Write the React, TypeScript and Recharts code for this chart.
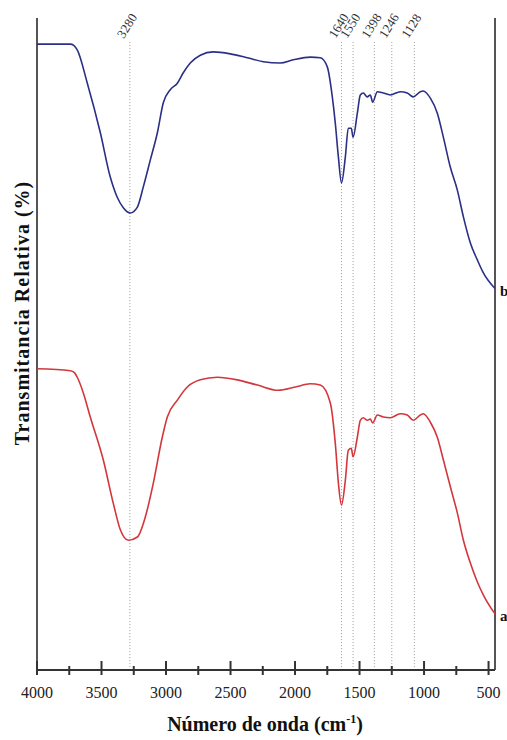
import { LineChart, Line, XAxis, YAxis, ReferenceLine } from "recharts";

// sample a (red, lower trace)
const waveA = [4000, 3742, 3710, 3688, 3641, 3587, 3486, 3409, 3354, 3292, 3222, 3160, 3098, 3029, 2990, 2912, 2835, 2734, 2602, 2447, 2292, 2130, 1998, 1882, 1804, 1727, 1688, 1664, 1640, 1610, 1587, 1564, 1550, 1517, 1494, 1471, 1440, 1417, 1398, 1362, 1316, 1262, 1184, 1130, 1084, 1029, 1006, 951, 897, 850, 796, 742, 695, 641, 587, 540, 450];
const transA = [46.2, 45.9, 45.6, 44.9, 42.5, 38.8, 32.2, 25.6, 21.5, 19.9, 20.4, 23.5, 28.7, 35.7, 38.8, 41.4, 43.4, 44.5, 44.9, 44.5, 43.7, 42.9, 43.4, 43.9, 43.7, 41.0, 34.8, 28.7, 25.3, 29.1, 33.7, 34.0, 32.7, 35.7, 38.3, 38.7, 38.3, 38.5, 37.9, 39.1, 38.8, 38.7, 39.3, 39.1, 38.3, 39.1, 39.3, 38.0, 35.7, 32.2, 28.1, 24.1, 19.9, 16.4, 13.5, 11.5, 8.6];

// sample b (blue, upper trace)
const waveB = [4000, 3742, 3715, 3688, 3610, 3509, 3432, 3378, 3331, 3277, 3222, 3176, 3122, 3067, 3021, 2967, 2912, 2866, 2812, 2734, 2634, 2502, 2370, 2246, 2114, 2013, 1882, 1804, 1750, 1711, 1688, 1664, 1640, 1610, 1587, 1564, 1550, 1517, 1494, 1471, 1440, 1417, 1398, 1362, 1316, 1262, 1184, 1130, 1084, 1029, 1006, 951, 897, 850, 796, 742, 695, 641, 587, 540, 450];
const transB = [96.0, 96.0, 95.8, 95.1, 90.0, 82.4, 75.6, 72.5, 70.9, 70.1, 71.0, 74.1, 78.2, 82.4, 87.0, 89.0, 90.0, 91.6, 93.1, 94.3, 94.8, 94.5, 93.9, 93.3, 93.1, 93.6, 94.0, 93.9, 92.5, 87.9, 83.9, 78.7, 74.7, 78.7, 83.1, 83.1, 81.7, 85.4, 88.2, 88.5, 87.9, 88.2, 87.1, 88.7, 88.5, 88.2, 88.7, 88.5, 87.9, 88.7, 88.8, 87.7, 85.4, 81.7, 77.1, 73.6, 69.5, 65.5, 62.9, 60.9, 58.5];

// marked bands: label and where the dotted guide sits
const peakLabels = ["3280", "1640", "1550", "1398", "1246", "1128"];
const peakPositions = [3280, 1640, 1550, 1385, 1250, 1075];

const xTicks = [4000, 3750, 3500, 3250, 3000, 2750, 2500, 2250, 2000, 1750, 1500, 1250, 1000, 750, 500];

const serif = '"Liberation Serif", "Times New Roman", serif';

const seriesA = waveA.map((wn, i) => ({ wn, t: transA[i] }));
const seriesB = waveB.map((wn, i) => ({ wn, t: transB[i] }));

function AxisTick(props: any) {
  const { x, y, payload } = props;
  const major = payload.value % 500 === 0;
  return (
    <g>
      <line
        x1={x}
        x2={x}
        y1={major ? y - 9 : y - 4}
        y2={y + 5}
        stroke="#333"
        strokeWidth={2}
      />
      {major && (
        <text x={x} y={y + 28} textAnchor="middle" style={{ fontFamily: serif }} fontSize={16} fill="#222">
          {payload.value}
        </text>
      )}
    </g>
  );
}

const peakLabel = (txt: string) => (props: any) => {
  const vb = props.viewBox || {};
  const px = vb.x - 6;
  const py = vb.y - 3;
  return (
    <text
      x={px}
      y={py}
      style={{ fontFamily: serif }}
      fontSize={13}
      fill="#333"
      transform={`rotate(-58 ${px} ${py})`}
    >
      {txt}
    </text>
  );
};

const endLabel = (txt: string, last: number) => (props: any) => {
  if (props.index !== last) return null;
  return (
    <text
      key={txt}
      x={props.x + 5}
      y={props.y + 7}
      style={{ fontFamily: serif }}
      fontWeight="bold"
      fontSize={15}
      fill="#111"
    >
      {txt}
    </text>
  );
};

export default function App() {
  return (
    <div style={{ position: "absolute", left: 0, top: 0, width: 507, height: 740, background: "#fff" }}>
      <LineChart width={507} height={740} margin={{ top: 18, right: 12, left: 37, bottom: 0 }}>
        <XAxis
          type="number"
          dataKey="wn"
          domain={[450, 4000]}
          reversed
          allowDataOverflow
          ticks={xTicks}
          interval={0}
          tick={<AxisTick />}
          tickLine={false}
          tickSize={0}
          tickMargin={0}
          height={70}
          axisLine={{ stroke: "#333", strokeWidth: 2 }}
        />
        <YAxis type="number" domain={[0, 100]} hide />
        <ReferenceLine x={4000} stroke="#555" strokeWidth={2} />
        <ReferenceLine x={450} stroke="#555" strokeWidth={2} />
        {peakPositions.map((p, i) => (
          <ReferenceLine
            key={p}
            segment={[
              { x: p, y: 96.3 },
              { x: p, y: 0 },
            ]}
            stroke="#999"
            strokeDasharray="1 2"
            strokeWidth={1}
            label={peakLabel(peakLabels[i])}
          />
        ))}
        <Line
          data={seriesB}
          dataKey="t"
          type="monotone"
          stroke="#2b2f85"
          strokeWidth={1.6}
          dot={false}
          isAnimationActive={false}
          label={endLabel("b", seriesB.length - 1)}
        />
        <Line
          data={seriesA}
          dataKey="t"
          type="monotone"
          stroke="#d2373c"
          strokeWidth={1.6}
          dot={false}
          isAnimationActive={false}
          label={endLabel("a", seriesA.length - 1)}
        />
      </LineChart>
      <div
        style={{
          position: "absolute",
          left: 0,
          width: 530,
          top: 712,
          textAlign: "center",
          fontFamily: serif,
          fontWeight: "bold",
          fontSize: 20,
          color: "#111",
        }}
      >
        Número de onda (cm<sup style={{ fontSize: 12 }}>-1</sup>)
      </div>
      <div
        style={{
          position: "absolute",
          left: 22,
          top: 313,
          transform: "translate(-50%, -50%) rotate(-90deg)",
          whiteSpace: "nowrap",
          fontFamily: serif,
          fontWeight: "bold",
          fontSize: 20,
          letterSpacing: 1,
          color: "#111",
        }}
      >
        Transmitancia Relativa (%)
      </div>
    </div>
  );
}
